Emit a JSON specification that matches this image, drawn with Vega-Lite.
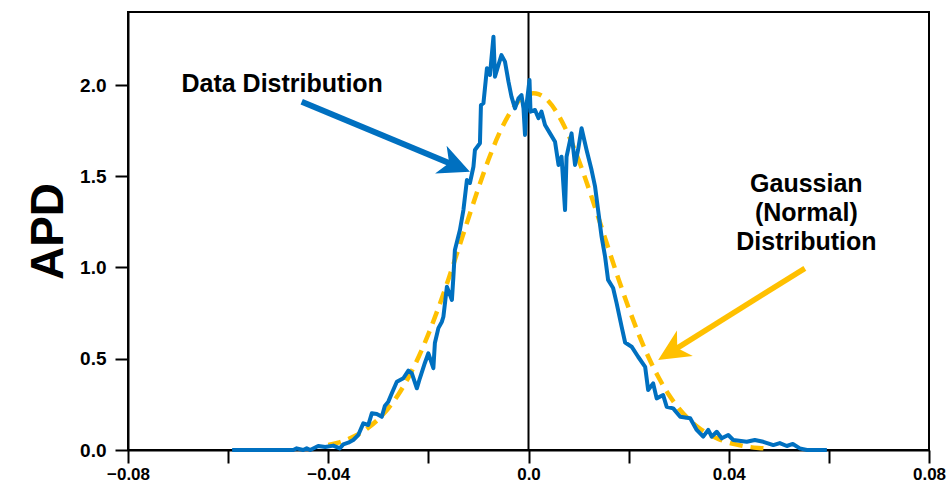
{
  "$schema": "https://vega.github.io/schema/vega-lite/v6.json",
  "width": 801,
  "height": 438,
  "autosize": {"type": "none"},
  "padding": {"left": 128, "top": 12, "right": 22, "bottom": 41},
  "background": "white",
  "config": {"view": {"stroke": "black", "strokeWidth": 2}},
  "datasets": {
    "observed": [
      {"x": -0.0592, "y": 0}, {"x": -0.0536, "y": 0}, {"x": -0.0470, "y": 0}, {"x": -0.0463, "y": 0.009},
      {"x": -0.0450, "y": 0}, {"x": -0.0443, "y": 0.009}, {"x": -0.0436, "y": 0}, {"x": -0.0420, "y": 0.022},
      {"x": -0.0406, "y": 0.016}, {"x": -0.0390, "y": 0.024}, {"x": -0.0377, "y": 0.009}, {"x": -0.0370, "y": 0.031},
      {"x": -0.0360, "y": 0.040}, {"x": -0.0350, "y": 0.055}, {"x": -0.0340, "y": 0.082}, {"x": -0.0330, "y": 0.146},
      {"x": -0.0320, "y": 0.137}, {"x": -0.0313, "y": 0.201}, {"x": -0.0303, "y": 0.197}, {"x": -0.0293, "y": 0.182},
      {"x": -0.0287, "y": 0.241}, {"x": -0.0280, "y": 0.265}, {"x": -0.0273, "y": 0.311}, {"x": -0.0263, "y": 0.374},
      {"x": -0.0250, "y": 0.393}, {"x": -0.0240, "y": 0.435}, {"x": -0.0233, "y": 0.420}, {"x": -0.0223, "y": 0.338},
      {"x": -0.0217, "y": 0.393}, {"x": -0.0207, "y": 0.477}, {"x": -0.0200, "y": 0.530}, {"x": -0.0190, "y": 0.448},
      {"x": -0.0187, "y": 0.586}, {"x": -0.0180, "y": 0.668}, {"x": -0.0173, "y": 0.703}, {"x": -0.0170, "y": 0.730},
      {"x": -0.0163, "y": 0.895}, {"x": -0.0153, "y": 0.822}, {"x": -0.0150, "y": 0.950}, {"x": -0.0147, "y": 1.096},
      {"x": -0.0137, "y": 1.205}, {"x": -0.0130, "y": 1.315}, {"x": -0.0123, "y": 1.479}, {"x": -0.0117, "y": 1.463},
      {"x": -0.0110, "y": 1.552}, {"x": -0.0107, "y": 1.644}, {"x": -0.0097, "y": 1.681}, {"x": -0.0095, "y": 1.890},
      {"x": -0.0090, "y": 1.900}, {"x": -0.0083, "y": 2.092}, {"x": -0.0077, "y": 2.055}, {"x": -0.0070, "y": 2.265},
      {"x": -0.0067, "y": 2.045}, {"x": -0.0060, "y": 2.110}, {"x": -0.0054, "y": 2.164}, {"x": -0.0047, "y": 2.128},
      {"x": -0.0040, "y": 2.018}, {"x": -0.0034, "y": 1.936}, {"x": -0.0027, "y": 1.872}, {"x": -0.0020, "y": 1.927},
      {"x": -0.0014, "y": 1.945}, {"x": -0.0010, "y": 1.872}, {"x": -0.0007, "y": 1.726}, {"x": -0.0004, "y": 1.890},
      {"x": 0.0002, "y": 2.027}, {"x": 0.0004, "y": 1.854}, {"x": 0.0013, "y": 1.863}, {"x": 0.0020, "y": 1.818},
      {"x": 0.0026, "y": 1.854}, {"x": 0.0033, "y": 1.781}, {"x": 0.0043, "y": 1.735}, {"x": 0.0053, "y": 1.689},
      {"x": 0.0060, "y": 1.562}, {"x": 0.0066, "y": 1.607}, {"x": 0.0073, "y": 1.315}, {"x": 0.0076, "y": 1.607},
      {"x": 0.0086, "y": 1.735}, {"x": 0.0093, "y": 1.562}, {"x": 0.0099, "y": 1.644}, {"x": 0.0106, "y": 1.763},
      {"x": 0.0116, "y": 1.644}, {"x": 0.0126, "y": 1.534}, {"x": 0.0133, "y": 1.443}, {"x": 0.0139, "y": 1.315},
      {"x": 0.0146, "y": 1.169}, {"x": 0.0153, "y": 1.059}, {"x": 0.0159, "y": 0.932}, {"x": 0.0169, "y": 0.888},
      {"x": 0.0176, "y": 0.805}, {"x": 0.0186, "y": 0.676}, {"x": 0.0193, "y": 0.589}, {"x": 0.0206, "y": 0.566},
      {"x": 0.0219, "y": 0.511}, {"x": 0.0233, "y": 0.456}, {"x": 0.0239, "y": 0.329}, {"x": 0.0249, "y": 0.365},
      {"x": 0.0256, "y": 0.283}, {"x": 0.0269, "y": 0.301}, {"x": 0.0276, "y": 0.237}, {"x": 0.0289, "y": 0.228},
      {"x": 0.0303, "y": 0.182}, {"x": 0.0323, "y": 0.174}, {"x": 0.0336, "y": 0.110}, {"x": 0.0349, "y": 0.073},
      {"x": 0.0359, "y": 0.110}, {"x": 0.0366, "y": 0.073}, {"x": 0.0376, "y": 0.100}, {"x": 0.0386, "y": 0.064},
      {"x": 0.0399, "y": 0.082}, {"x": 0.0409, "y": 0.055}, {"x": 0.0436, "y": 0.045}, {"x": 0.0452, "y": 0.055},
      {"x": 0.0469, "y": 0.045}, {"x": 0.0489, "y": 0.027}, {"x": 0.0502, "y": 0.038}, {"x": 0.0516, "y": 0.022},
      {"x": 0.0528, "y": 0.033}, {"x": 0.0542, "y": 0.009}, {"x": 0.0556, "y": 0}, {"x": 0.0596, "y": 0}
    ],
    "gauss": [
      {"x": -0.040, "y": 0.027}, {"x": -0.038, "y": 0.040}, {"x": -0.036, "y": 0.060}, {"x": -0.034, "y": 0.086},
      {"x": -0.032, "y": 0.122}, {"x": -0.030, "y": 0.169}, {"x": -0.028, "y": 0.229}, {"x": -0.026, "y": 0.304},
      {"x": -0.024, "y": 0.397}, {"x": -0.022, "y": 0.507}, {"x": -0.020, "y": 0.635}, {"x": -0.018, "y": 0.779},
      {"x": -0.016, "y": 0.935}, {"x": -0.014, "y": 1.101}, {"x": -0.012, "y": 1.270}, {"x": -0.010, "y": 1.436},
      {"x": -0.008, "y": 1.590}, {"x": -0.006, "y": 1.725}, {"x": -0.004, "y": 1.834}, {"x": -0.002, "y": 1.911},
      {"x": 0.000, "y": 1.950}, {"x": 0.001, "y": 1.955}, {"x": 0.002, "y": 1.950}, {"x": 0.004, "y": 1.911},
      {"x": 0.006, "y": 1.834}, {"x": 0.008, "y": 1.725}, {"x": 0.010, "y": 1.590}, {"x": 0.012, "y": 1.436},
      {"x": 0.014, "y": 1.270}, {"x": 0.016, "y": 1.101}, {"x": 0.018, "y": 0.935}, {"x": 0.020, "y": 0.779},
      {"x": 0.022, "y": 0.635}, {"x": 0.024, "y": 0.507}, {"x": 0.026, "y": 0.397}, {"x": 0.028, "y": 0.304},
      {"x": 0.030, "y": 0.229}, {"x": 0.032, "y": 0.169}, {"x": 0.034, "y": 0.122}, {"x": 0.036, "y": 0.086},
      {"x": 0.038, "y": 0.060}, {"x": 0.040, "y": 0.040}, {"x": 0.042, "y": 0.027}, {"x": 0.044, "y": 0.017},
      {"x": 0.046, "y": 0.011}, {"x": 0.048, "y": 0.007}
    ],
    "zero": [{"x": 0, "y": 0, "y2": 2.4}],
    "arrowData": [{"x": -0.0453, "y": 1.9085, "x2": -0.0154, "y2": 1.567}],
    "headData": [{"x": -0.0117, "y": 1.525}],
    "arrowGauss": [{"x": 0.0552, "y": 0.9956, "x2": 0.0293, "y2": 0.5512}],
    "headGauss": [{"x": 0.0259, "y": 0.4932}],
    "noteData": [{"x": -0.0492, "y": 1.962, "label": "Data Distribution"}],
    "noteGauss": [{"x": 0.0555, "y": 1.412, "label": "Gaussian\n(Normal)\nDistribution"}]
  },
  "encoding": {
    "x": {
      "field": "x", "type": "quantitative",
      "scale": {"domain": [-0.08, 0.08], "nice": false, "zero": false},
      "axis": {
        "title": null,
        "values": [-0.08, -0.06, -0.04, -0.02, 0, 0.02, 0.04, 0.06, 0.08],
        "labelExpr": "datum.value == 0 ? '0.0' : (round(datum.value * 100) % 4 == 0 ? format(datum.value, '.2f') : '')",
        "grid": false, "domainColor": "black", "domainWidth": 2,
        "tickColor": "black", "tickWidth": 2, "tickSize": 13,
        "labelFont": "Liberation Sans", "labelFontWeight": "bold", "labelFontSize": 17,
        "labelColor": "black", "labelPadding": 3, "labelFlush": false, "labelOverlap": false
      }
    },
    "y": {
      "field": "y", "type": "quantitative",
      "scale": {"domain": [0, 2.4], "nice": false, "zero": false},
      "axis": {
        "title": "APD",
        "values": [0, 0.5, 1, 1.5, 2],
        "format": ".1f",
        "grid": false, "domainColor": "black", "domainWidth": 2,
        "tickColor": "black", "tickWidth": 2, "tickSize": 13,
        "labelFont": "Liberation Sans", "labelFontWeight": "bold", "labelFontSize": 19,
        "labelColor": "black", "labelPadding": 9,
        "titleFont": "Liberation Sans", "titleFontWeight": "bold", "titleFontSize": 46,
        "titleColor": "black", "titleX": -66, "titleY": 219, "titleAngle": -90,
        "titleBaseline": "alphabetic", "titleAlign": "center"
      }
    }
  },
  "layer": [
    {
      "data": {"name": "zero"},
      "mark": {"type": "rule", "color": "black", "strokeWidth": 2},
      "encoding": {"y2": {"field": "y2"}}
    },
    {
      "data": {"name": "gauss"},
      "mark": {"type": "line", "color": "#FFC000", "strokeWidth": 4.5, "strokeDash": [13, 8], "interpolate": "monotone"}
    },
    {
      "data": {"name": "observed"},
      "mark": {"type": "line", "color": "#0070C0", "strokeWidth": 4, "strokeJoin": "round"}
    },
    {
      "data": {"name": "arrowData"},
      "mark": {"type": "rule", "color": "#0070C0", "strokeWidth": 6},
      "encoding": {"x2": {"field": "x2"}, "y2": {"field": "y2"}}
    },
    {
      "data": {"name": "headData"},
      "mark": {"type": "point", "shape": "M0,0 L-2.1,-1 L-1.5,0 L-2.1,1 Z", "size": 900, "angle": 22.6, "filled": true, "color": "#0070C0", "opacity": 1, "strokeWidth": 0}
    },
    {
      "data": {"name": "arrowGauss"},
      "mark": {"type": "rule", "color": "#FFC000", "strokeWidth": 5.5},
      "encoding": {"x2": {"field": "x2"}, "y2": {"field": "y2"}}
    },
    {
      "data": {"name": "headGauss"},
      "mark": {"type": "point", "shape": "M0,0 L-2.1,-1 L-1.5,0 L-2.1,1 Z", "size": 900, "angle": 148, "filled": true, "color": "#FFC000", "opacity": 1, "strokeWidth": 0}
    },
    {
      "data": {"name": "noteData"},
      "mark": {"type": "text", "font": "Liberation Sans", "fontWeight": "bold", "fontSize": 25, "align": "center", "baseline": "alphabetic", "color": "black"},
      "encoding": {"text": {"field": "label"}}
    },
    {
      "data": {"name": "noteGauss"},
      "mark": {"type": "text", "font": "Liberation Sans", "fontWeight": "bold", "fontSize": 25, "align": "center", "baseline": "alphabetic", "color": "black", "lineBreak": "\n", "lineHeight": 29},
      "encoding": {"text": {"field": "label"}}
    }
  ]
}
